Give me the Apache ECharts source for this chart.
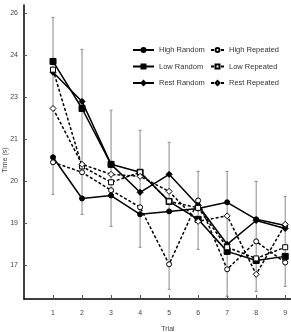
<!DOCTYPE html>
<html>
<head>
<meta charset="utf-8">
<script src="https://cdn.jsdelivr.net/npm/echarts@6/dist/echarts.min.js"></script>
<style>
  html, body { margin: 0; padding: 0; background: #fff; }
  #chart { width: 291px; height: 332px; }
</style>
</head>
<body>
<div id="chart"></div>
<script>
// values
const trials = [1, 2, 3, 4, 5, 6, 7, 8, 9]
const highRandom = [20.82, 19.42, 19.52, 18.88, 18.98, 19.08, 19.29, 18.71, 18.50]
const lowRandom = [24.08, 22.48, 20.58, 20.31, 19.32, 18.71, 17.62, 17.31, 17.45]
const restRandom = [23.71, 22.72, 20.58, 19.63, 20.24, 19.18, 17.86, 18.67, 18.40]
const highRepeated = [20.65, 20.31, 19.70, 19.12, 17.18, 19.35, 17.01, 17.96, 17.24]
const lowRepeated = [23.80, 20.51, 19.97, 20.31, 19.32, 19.10, 17.76, 17.38, 17.76]
const restRepeated = [22.48, 20.58, 20.24, 20.17, 19.66, 18.64, 18.83, 16.84, 18.54]
const errLow = [19.56, 18.88, 18.47, 17.76, 16.33, 17.69, 16.09, 16.26, 16.43]
const errHigh = [25.58, 24.49, 22.42, 21.74, 21.33, 20.34, 20.34, 20.00, 19.49]

// the y axis has ticks every 10/7 s, labelled with rounded values
const yTickValues = [17.143, 18.571, 20, 21.429, 22.857, 24.286, 25.714]
const yTickLabels = ['17', '19', '20', '21', '23', '24', '26']

const font = 'Liberation Sans, Arial, sans-serif'
const chart = echarts.init(document.getElementById('chart'))

const lineSeries = (name, values, symbol, dashed, size) => ({
    name,
    type: 'line',
    data: trials.map((t, i) => [t, values[i]]),
    symbol,
    symbolSize: size,
    z: 3,
    lineStyle: { color: '#000', width: 1.5, type: dashed ? [3, 2] : 'solid' },
    itemStyle: { color: dashed ? '#fff' : '#000', borderColor: '#000', borderWidth: 1 },
})

const legendText = { fontSize: 7.5, fontFamily: font, color: '#333', lineHeight: 10 }

chart.setOption({
    animation: false,
    backgroundColor: '#fff',
    grid: { left: 24, top: 5, width: 267, height: 294 },
    xAxis: {
        type: 'value',
        min: 0,
        max: 9.2,
        axisLine: { lineStyle: { color: '#000', width: 1.5 } },
        axisTick: { inside: true, length: 4, lineStyle: { color: '#555' }, customValues: trials },
        axisLabel: {
            customValues: trials,
            color: '#444',
            fontSize: 7,
            fontFamily: font,
            margin: 11,
        },
        splitLine: { show: false },
    },
    yAxis: {
        type: 'value',
        min: 16,
        max: 26,
        axisLine: { show: true, lineStyle: { color: '#000', width: 1.5 } },
        axisTick: { show: true, inside: true, length: 3, lineStyle: { color: '#555' }, customValues: yTickValues },
        axisLabel: {
            customValues: yTickValues,
            formatter: (v) => {
                const i = yTickValues.findIndex((t) => Math.abs(t - v) < 0.01)
                return i >= 0 ? yTickLabels[i] : ''
            },
            color: '#444',
            fontSize: 7,
            fontFamily: font,
            margin: 6,
        },
        splitLine: { show: false },
    },
    legend: [
        {
            data: ['High Random', 'Low Random', 'Rest Random'],
            orient: 'vertical',
            left: 132,
            top: 45,
            padding: 0,
            itemWidth: 21,
            itemHeight: 5,
            itemGap: 6.5,
            textStyle: legendText,
        },
        {
            data: ['High Repeated', 'Low Repeated', 'Rest Repeated'],
            orient: 'vertical',
            left: 210,
            top: 45,
            padding: 0,
            itemWidth: 13,
            itemHeight: 5,
            itemGap: 6.5,
            textStyle: legendText,
        },
    ],
    graphic: [
        {
            type: 'text',
            x: 168,
            y: 329,
            style: { text: 'Trial', fontSize: 7, fontFamily: font, fill: '#444', align: 'center', verticalAlign: 'middle' },
        },
        {
            type: 'text',
            x: 5,
            y: 160,
            rotation: Math.PI / 2,
            style: { text: 'Time (s)', fontSize: 7, fontFamily: font, fill: '#444', align: 'center', verticalAlign: 'middle' },
        },
    ],
    series: [
        {
            type: 'custom',
            z: 1,
            silent: true,
            data: trials.map((t, i) => [t, errLow[i], errHigh[i]]),
            renderItem: (params, api) => {
                const lo = api.coord([api.value(0), api.value(1)])
                const hi = api.coord([api.value(0), api.value(2)])
                const style = { stroke: '#8a8a8a', lineWidth: 1 }
                return {
                    type: 'group',
                    children: [
                        { type: 'line', shape: { x1: lo[0], y1: lo[1], x2: hi[0], y2: hi[1] }, style },
                        { type: 'line', shape: { x1: lo[0] - 1.5, y1: lo[1], x2: lo[0] + 1.5, y2: lo[1] }, style },
                        { type: 'line', shape: { x1: hi[0] - 1.5, y1: hi[1], x2: hi[0] + 1.5, y2: hi[1] }, style },
                    ],
                }
            },
        },
        lineSeries('High Random', highRandom, 'circle', false, 5),
        lineSeries('Low Random', lowRandom, 'rect', false, 6),
        lineSeries('Rest Random', restRandom, 'diamond', false, 6),
        lineSeries('High Repeated', highRepeated, 'circle', true, 5),
        lineSeries('Low Repeated', lowRepeated, 'rect', true, 5),
        lineSeries('Rest Repeated', restRepeated, 'diamond', true, 6),
    ],
})
</script>
</body>
</html>
